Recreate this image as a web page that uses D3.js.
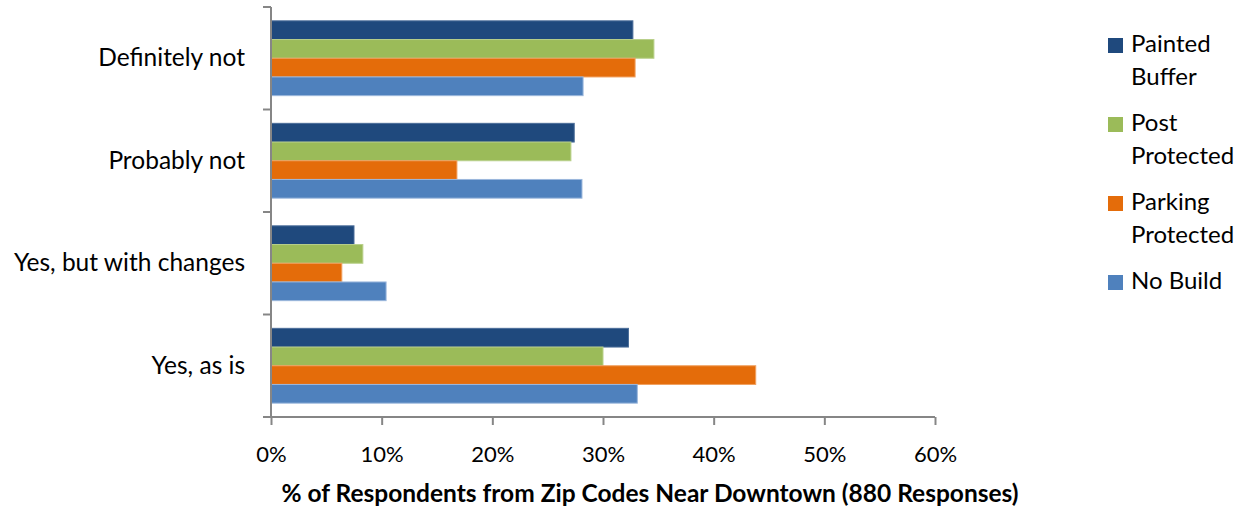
<!DOCTYPE html>
<html lang="en">
<meta charset="utf-8">
<head>
    <title>Downtown bike lane survey</title>
    <script src="https://cdnjs.cloudflare.com/ajax/libs/d3/7.8.5/d3.min.js"></script>
    <style>
        body { margin: 0; background: #fff; }
        text { font-family: Lato, "Open Sans", sans-serif; fill: #000; }
        .axis path, .axis line { stroke: #868686; stroke-width: 2; }
    </style>
</head>
<body>
<div id="chart"></div>
<script>
    // answers, top to bottom
    const answers = ["Definitely not", "Probably not", "Yes, but with changes", "Yes, as is"];
    // series, in the order the bars are stacked inside each group
    const designs = ["Painted Buffer", "Post Protected", "Parking Protected", "No Build"];
    const colors = ["#1F497D", "#9BBB59", "#E46C0A", "#4F81BD"];
    const edges = ["#4a6d99", "#b9d08a", "#f0a060", "#9bb7dc"];
    const legendLines = [["Painted", "Buffer"], ["Post", "Protected"], ["Parking", "Protected"], ["No Build"]];

    // % of respondents, one array per design, same order as answers
    const paintedBuffer = [32.7, 27.4, 7.5, 32.3];
    const postProtected = [34.6, 27.1, 8.3, 30.0];
    const parkingProtected = [32.9, 16.8, 6.4, 43.8];
    const noBuild = [28.2, 28.1, 10.4, 33.1];

    const xTicks = [0, 10, 20, 30, 40, 50, 60];
    const xTitle = "% of Respondents from Zip Codes Near Downtown (880 Responses)";

    const series = [paintedBuffer, postProtected, parkingProtected, noBuild];

    let W = 1244, H = 508;
    let margin = {top: 7, left: 271, right: 309, bottom: 91};
    let width = W - margin.left - margin.right
        , height = H - margin.top - margin.bottom;

    let svg = d3.select("#chart").append("svg")
        .attr("width", W)
        .attr("height", H);
    let g = svg.append("g")
        .attr("transform", "translate(" + margin.left + "," + margin.top + ")");

    let xScale = d3.scaleLinear().domain([0, 60]).range([0, width]);
    let yScale = d3.scaleBand().domain(answers).range([0, height]).paddingInner(0.27).paddingOuter(0.135);
    let inner = d3.scaleBand().domain(designs).range([0, yScale.bandwidth()]);

    // bars
    let groups = g.selectAll(".group")
        .data(answers)
        .enter().append("g")
        .attr("class", "group")
        .attr("transform", d => "translate(0," + yScale(d) + ")");
    groups.selectAll("rect")
        .data((a, i) => designs.map((s, j) => ({design: s, j: j, v: series[j][i]})))
        .enter().append("rect")
        .attr("x", 0)
        .attr("y", d => inner(d.design))
        .attr("width", d => xScale(d.v))
        .attr("height", inner.bandwidth())
        .attr("fill", d => colors[d.j])
        .attr("stroke", d => edges[d.j])
        .attr("stroke-width", 1);

    // x axis
    let xAxis = d3.axisBottom(xScale).tickValues(xTicks).tickSize(8).tickFormat(d => d + "%");
    let xg = g.append("g")
        .attr("class", "axis")
        .attr("transform", "translate(0," + height + ")")
        .call(xAxis);
    xg.select(".domain").attr("d", "M0,0H" + width);
    xg.selectAll(".tick text").attr("dy", 0).attr("y", 45).style("font-size", "22px");

    // y axis: ticks sit between the categories
    let bounds = d3.range(answers.length + 1).map(i => i * height / answers.length);
    let yg = g.append("g").attr("class", "axis");
    yg.append("line").attr("x1", 0).attr("x2", 0).attr("y1", 0).attr("y2", height);
    yg.selectAll(".ytick").data(bounds).enter().append("line")
        .attr("class", "ytick")
        .attr("x1", -8).attr("x2", 0)
        .attr("y1", d => d).attr("y2", d => d);
    g.selectAll(".ylabel")
        .data(answers)
        .enter().append("text")
        .attr("class", "ylabel")
        .attr("x", -26)
        .attr("y", d => yScale(d) + yScale.bandwidth() / 2)
        .attr("dy", "0.33em")
        .attr("text-anchor", "end")
        .style("font-size", "24.5px")
        .text(d => d);

    // axis title
    svg.append("text")
        .attr("x", 650)
        .attr("y", 502)
        .attr("text-anchor", "middle")
        .style("font-size", "24.5px")
        .style("font-weight", "bold")
        .text(xTitle);

    // legend
    let legendTop = [38, 117, 196, 275];
    let legend = svg.selectAll(".legend")
        .data(designs)
        .enter().append("g")
        .attr("class", "legend")
        .attr("transform", (d, i) => "translate(1108," + legendTop[i] + ")");
    legend.append("rect")
        .attr("width", 15).attr("height", 15)
        .attr("fill", (d, i) => colors[i]);
    legend.each(function(d, i) {
        let t = d3.select(this).append("text")
            .attr("x", 23)
            .attr("y", 14)
            .style("font-size", "24px");
        legendLines[i].forEach((s, k) => {
            t.append("tspan").attr("x", 23).attr("dy", k == 0 ? 0 : 33).text(s);
        });
    });
</script>
</body>
</html>
